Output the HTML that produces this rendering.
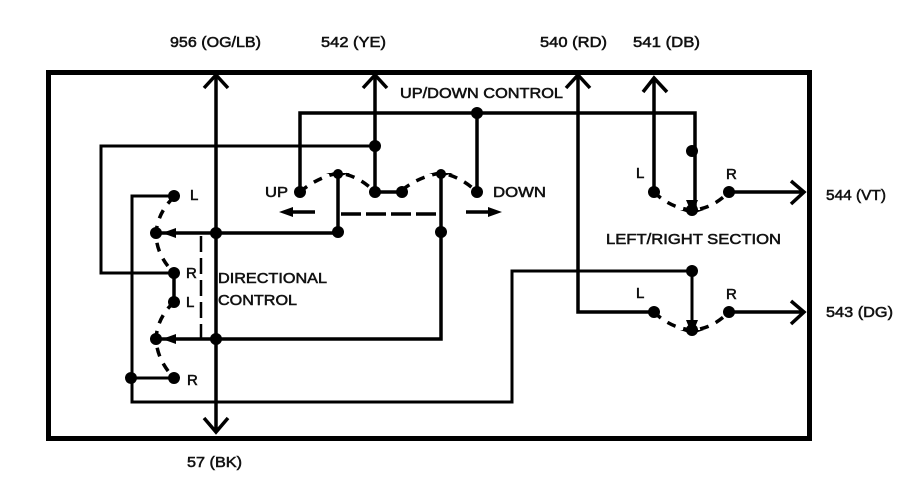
<!DOCTYPE html>
<html><head><meta charset="utf-8"><style>
html,body{margin:0;padding:0;background:#fff}
svg{display:block}
text{font-family:"Liberation Sans",sans-serif;font-size:15px;fill:#111;stroke:#111;stroke-width:.55px}
</style></head><body>
<svg width="908" height="496" viewBox="0 0 908 496" xmlns="http://www.w3.org/2000/svg">
<rect x="48.5" y="72.5" width="761" height="366" fill="none" stroke="#000" stroke-width="5"/>
<g fill="none" stroke="#000" stroke-width="3.5" stroke-linejoin="miter">
<path d="M216 74V430M204 418L216 432L228 418"/>
<path d="M204 88L216 75L228 88"/>
<path d="M375 74V192M363 88L375 75L387 88"/>
<path d="M578 74V312H654M566 88L578 75L590 88"/>
<path d="M654 78V192M643 92L654 78L667 92"/>
<path d="M300 192V113H695V210"/>
<path d="M156 233H338M156 339H441V173"/>
<path d="M338 173V232"/>
<path d="M375 192H402"/>
<path d="M477 113V192"/>
<path d="M729 192H803M791 181L804 192L791 204"/>
<path d="M729 312H803M791 301L804 312L791 324"/>
<path d="M292 212H315M466 212H490"/>
<path d="M174 273V302"/>
</g>
<g fill="none" stroke="#000" stroke-width="3" stroke-linejoin="miter">
<path d="M375 146H101V273H174" />
<path d="M174 196H132V402H512V271H692V330"/>
<path d="M131 378H174"/>
</g>
<g fill="none" stroke="#000" stroke-width="3.5" stroke-dasharray="20 5">
<path d="M341 214H440"/>
</g>
<path d="M201 236V338" fill="none" stroke="#000" stroke-width="2.5" stroke-dasharray="16 6"/>
<g fill="none" stroke="#000" stroke-width="3.5" stroke-dasharray="9 8">
<path d="M174 197Q158 212 156 233Q156 255 174 273"/>
<path d="M174 302Q157 318 156 339Q157 360 174 378"/>
<path d="M300 192Q316 178 338 173Q358 175 375 192"/>
<path d="M402 190Q420 176 441 173Q460 176 477 192"/>
<path d="M654 192Q670 208 692 210Q712 209 729 192"/>
<path d="M654 312Q670 328 692 330Q712 329 729 312"/>
</g>
<g fill="#000">
<path d="M279 212L293 207V217ZM502 212L488 207V217Z"/>
<path d="M162 233L176 228V238ZM162 339L176 334V344Z"/>
<path d="M692 214L686 200H698ZM692 335L686 320H698Z"/>
<path d="M326 173H350L338 177ZM429 173H453L441 177ZM680 210H704L692 214ZM680 330H704L692 334Z"/>
<circle cx="174" cy="196" r="6"/><circle cx="174" cy="273" r="6"/>
<circle cx="174" cy="302" r="6"/><circle cx="174" cy="378" r="6"/>
<circle cx="156" cy="233" r="6"/><circle cx="156" cy="339" r="6"/>
<circle cx="216" cy="233" r="6"/><circle cx="216" cy="339" r="6"/>
<circle cx="131" cy="378" r="6"/><circle cx="338" cy="232" r="6"/>
<circle cx="441" cy="232" r="6"/><circle cx="300" cy="192" r="6"/>
<circle cx="375" cy="146" r="6"/><circle cx="375" cy="192" r="6"/>
<circle cx="402" cy="192" r="6"/><circle cx="338" cy="174" r="5"/>
<circle cx="441" cy="174" r="5"/><circle cx="477" cy="113" r="6"/>
<circle cx="477" cy="192" r="6"/><circle cx="654" cy="192" r="6"/>
<circle cx="692" cy="151" r="6"/><circle cx="692" cy="210" r="6"/>
<circle cx="729" cy="192" r="6"/><circle cx="692" cy="271" r="6"/>
<circle cx="692" cy="330" r="6"/><circle cx="654" cy="312" r="6"/>
<circle cx="729" cy="312" r="6"/>
</g>
<text x="170" y="47" textLength="91" lengthAdjust="spacingAndGlyphs">956 (OG/LB)</text>
<text x="321" y="47" textLength="65" lengthAdjust="spacingAndGlyphs">542 (YE)</text>
<text x="540" y="47" textLength="67" lengthAdjust="spacingAndGlyphs">540 (RD)</text>
<text x="633" y="47" textLength="67" lengthAdjust="spacingAndGlyphs">541 (DB)</text>
<text x="400" y="98" textLength="163" lengthAdjust="spacingAndGlyphs">UP/DOWN CONTROL</text>
<text x="265" y="197" textLength="23" lengthAdjust="spacingAndGlyphs">UP</text>
<text x="493" y="197" textLength="53" lengthAdjust="spacingAndGlyphs">DOWN</text>
<text x="190" y="200">L</text>
<text x="186" y="278">R</text>
<text x="186" y="307">L</text>
<text x="187" y="385">R</text>
<text x="218" y="283" textLength="109" lengthAdjust="spacingAndGlyphs">DIRECTIONAL</text>
<text x="218" y="305" textLength="79" lengthAdjust="spacingAndGlyphs">CONTROL</text>
<text x="636" y="178">L</text>
<text x="726" y="179">R</text>
<text x="606" y="244" textLength="175" lengthAdjust="spacingAndGlyphs">LEFT/RIGHT SECTION</text>
<text x="636" y="298">L</text>
<text x="726" y="299">R</text>
<text x="826" y="200" textLength="60" lengthAdjust="spacingAndGlyphs">544 (VT)</text>
<text x="826" y="317" textLength="67" lengthAdjust="spacingAndGlyphs">543 (DG)</text>
<text x="187" y="467" textLength="55" lengthAdjust="spacingAndGlyphs">57 (BK)</text>
</svg>
</body></html>
